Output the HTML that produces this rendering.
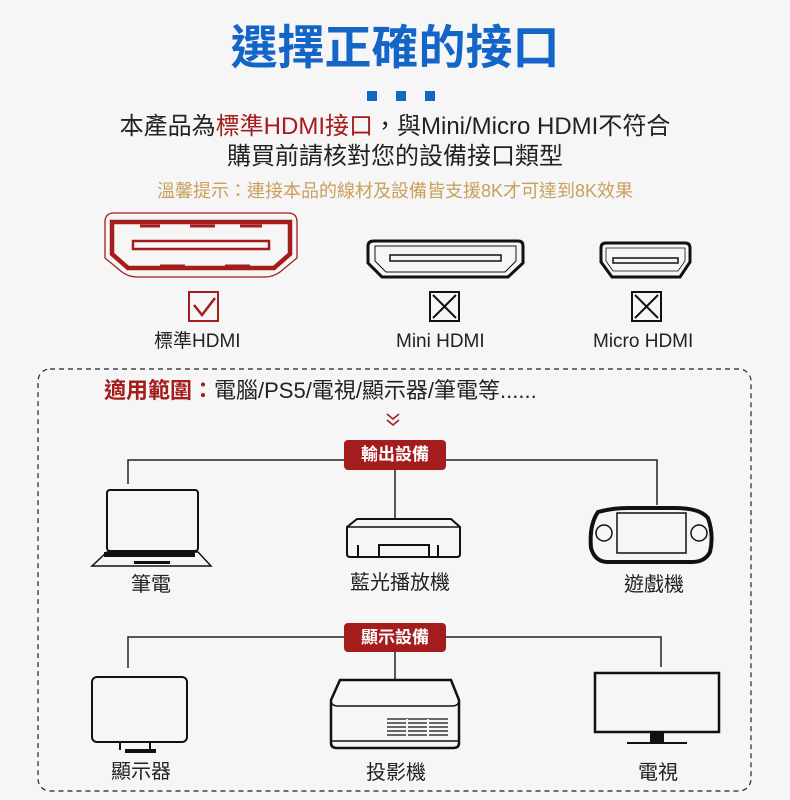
<!DOCTYPE html>
<html><head><meta charset="utf-8"><style>
body{margin:0;width:790px;height:800px;background:#f6f6f6;overflow:hidden;position:relative;font-family:"Liberation Sans","Noto Sans CJK TC",sans-serif;}
.t{position:absolute;white-space:nowrap;line-height:22px;}
</style></head><body>
<div class="t" style="left:0;width:790px;top:20px;text-align:center;font-size:47px;font-weight:bold;color:#1366c8;line-height:56px;">選擇正確的接口</div>
<div class="t" style="left:367px;top:91px;width:10px;height:10px;background:#1366c8"></div>
<div class="t" style="left:396px;top:91px;width:10px;height:10px;background:#1366c8"></div>
<div class="t" style="left:425px;top:91px;width:10px;height:10px;background:#1366c8"></div>
<div class="t" style="left:0;width:790px;top:112px;text-align:center;font-size:24px;color:#222;line-height:30px;">本產品為<span style="color:#a51c1c">標準HDMI接口</span>，與Mini/Micro HDMI不符合</div>
<div class="t" style="left:0;width:790px;top:142px;text-align:center;font-size:24px;color:#222;line-height:30px;">購買前請核對您的設備接口類型</div>
<div class="t" style="left:0;width:790px;top:180px;text-align:center;font-size:18px;color:#c9a05c;line-height:22px;">溫馨提示：連接本品的線材及設備皆支援8K才可達到8K效果</div>

<svg style="position:absolute;left:0;top:0" width="790" height="800" viewBox="0 0 790 800">
<g fill="none" stroke="#a51c1c">
<path d="M114,213 H288 Q297,213 297,222 V258 L280,272 Q273,277 265,277 H137 Q129,277 122,272 L105,258 V222 Q105,213 114,213Z" stroke-width="1.3"/>
<path d="M112,222 H290 V254 L274,268 H128 L112,254Z" stroke-width="4.5"/>
<rect x="133" y="241" width="136" height="8" stroke-width="2.5"/>
<path d="M140,226 H160 M190,226 H215 M240,226 H262 M160,266 H185 M225,266 H250" stroke-width="3"/>
</g>
<g fill="none" stroke="#111">
<path d="M374,241 H518 Q523,241 523,246 V263 L508,277 H382 L368,263 V246 Q368,241 374,241Z" stroke-width="3"/>
<path d="M375,246 H516 V261 L505,272 H386 L375,261Z" stroke-width="1"/>
<rect x="390" y="255" width="111" height="6" stroke-width="1.5"/>
<path d="M606,243 H685 Q690,243 690,248 V262 L680,277 H612 L601,262 V248 Q601,243 606,243Z" stroke-width="3"/>
<path d="M606,248 H685 V261 L678,271 H613 L606,261Z" stroke-width="0.8"/>
<rect x="613" y="258" width="65" height="5" stroke-width="1.5"/>
</g>
<rect x="189" y="292" width="29" height="29" fill="none" stroke="#a51c1c" stroke-width="2"/>
<path d="M194,305 L202,315 L215,298" fill="none" stroke="#a51c1c" stroke-width="2.5"/>
<rect x="430" y="292" width="29" height="29" fill="none" stroke="#111" stroke-width="2"/>
<path d="M433,295 L456,318 M456,295 L433,318" stroke="#111" stroke-width="2"/>
<rect x="632" y="292" width="29" height="29" fill="none" stroke="#111" stroke-width="2"/>
<path d="M635,295 L658,318 M658,295 L635,318" stroke="#111" stroke-width="2"/>

<rect x="38" y="369" width="713" height="422" rx="12" fill="none" stroke="#222" stroke-width="1.2" stroke-dasharray="5,4"/>
<path d="M387,414 l6,5 l6,-5 M387,420 l6,5 l6,-5" fill="none" stroke="#a51c1c" stroke-width="1.5"/>

<g stroke="#222" stroke-width="1.5" fill="none">
<path d="M128,484 V460 H657 V505"/>
<path d="M395,470 V519"/>
<path d="M128,668 V637 H661 V667"/>
<path d="M395,652 V680"/>
</g>
<rect x="344" y="440" width="102" height="30" rx="4" fill="#a51c1c"/>
<rect x="344" y="623" width="102" height="29" rx="4" fill="#a51c1c"/>

<g stroke="#111" fill="none">
<rect x="107" y="490" width="91" height="61" rx="3" stroke-width="2"/>
<path d="M107,552 L92,566 H211 L198,552Z" stroke-width="1.5"/>
<rect x="104" y="552" width="91" height="5" fill="#111" stroke="none"/>
<rect x="134" y="561" width="36" height="3" fill="#111" stroke="none"/>
<path d="M347,527 L357,519 H451 L460,527 V554 Q460,557 457,557 H350 Q347,557 347,554Z" stroke-width="2"/>
<path d="M347,527 H460" stroke-width="1.5"/>
<path d="M379,557 V545 H429 V557 M358,557 V545 M438,557 V545" stroke-width="2"/>
<path d="M598,512 Q612,508 628,508 H675 Q700,508 708,518 Q714,535 710,552 Q705,562 692,562 H608 Q595,562 591,548 Q589,525 598,512Z" stroke-width="4"/>
<rect x="617" y="513" width="69" height="40" stroke-width="1.5"/>
<circle cx="604" cy="533" r="8" stroke-width="1.5"/><circle cx="699" cy="533" r="8" stroke-width="1.5"/>
<rect x="92" y="677" width="95" height="65" rx="5" stroke-width="2"/>
<path d="M120,742 V750 M150,742 V750" stroke-width="2"/>
<rect x="125" y="749" width="31" height="4" fill="#111" stroke="none"/>
<path d="M340,680 H451 L459,700 V743 Q459,748 453,748 H337 Q331,748 331,743 V700Z" stroke-width="2.5"/>
<path d="M331,700 Q331,706 338,706 H452 Q459,706 459,700" stroke-width="1.5"/>
<path d="M331,741 H459" stroke-width="1.5"/>
<path d="M387,719 H448 M387,723 H448 M387,727 H448 M387,731 H448 M387,735 H448" stroke-width="1.3"/>
<path d="M407,719 V736 M428,719 V736" stroke="#f6f6f6" stroke-width="2"/>
<rect x="595" y="673" width="124" height="59" stroke-width="2.5"/>
<rect x="650" y="732" width="14" height="10" fill="#111" stroke="none"/>
<path d="M627,743 H687" stroke-width="2"/>
</g>
</svg>

<div class="t" style="left:154px;top:331px;font-size:19px;color:#222;">標準HDMI</div>
<div class="t" style="left:396px;top:331px;font-size:19px;color:#222;">Mini HDMI</div>
<div class="t" style="left:593px;top:331px;font-size:19px;color:#222;">Micro HDMI</div>
<div class="t" style="left:104px;top:377px;font-size:22px;color:#222;line-height:28px;"><span style="color:#a51c1c;font-weight:bold">適用範圍：</span>電腦/PS5/電視/顯示器/筆電等......</div>
<div class="t" style="left:344px;top:441px;width:102px;text-align:center;font-size:17px;font-weight:bold;color:#fff;line-height:28px;">輸出設備</div>
<div class="t" style="left:344px;top:624px;width:102px;text-align:center;font-size:17px;font-weight:bold;color:#fff;line-height:28px;">顯示設備</div>
<div class="t" style="left:131px;top:574px;font-size:20px;color:#222;">筆電</div>
<div class="t" style="left:350px;top:572px;font-size:20px;color:#222;">藍光播放機</div>
<div class="t" style="left:624px;top:574px;font-size:20px;color:#222;">遊戲機</div>
<div class="t" style="left:111px;top:761px;font-size:20px;color:#222;">顯示器</div>
<div class="t" style="left:366px;top:762px;font-size:20px;color:#222;">投影機</div>
<div class="t" style="left:638px;top:762px;font-size:20px;color:#222;">電視</div>
</body></html>
